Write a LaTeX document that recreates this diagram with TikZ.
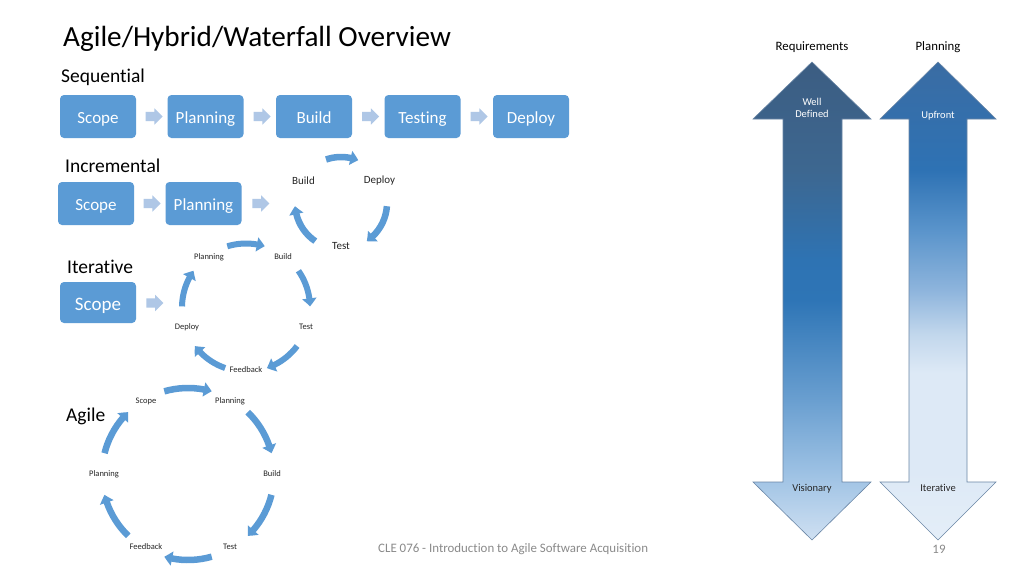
\documentclass[tikz,border=0pt]{standalone}
\usepackage{fontspec}
\setmainfont{Carlito}[Ligatures=NoCommon]
\usetikzlibrary{arrows.meta,shapes.arrows,calc,bending}
\definecolor{sablue}{HTML}{5B9BD5}
\definecolor{chev}{HTML}{AFC7E6}
\definecolor{txt}{HTML}{262626}
\definecolor{foot}{HTML}{8A8A8A}
\definecolor{rA}{HTML}{3C5D82}
\definecolor{rB}{HTML}{3D6790}
\definecolor{rC}{HTML}{2E73B3}
\definecolor{rD}{HTML}{2E75B6}
\definecolor{rE}{HTML}{6A9FD0}
\definecolor{rF}{HTML}{9BC0E3}
\definecolor{rG}{HTML}{CFE0F2}
\definecolor{pA}{HTML}{3A6CA3}
\definecolor{pB}{HTML}{2E72B4}
\definecolor{pC}{HTML}{5A94CB}
\definecolor{pD}{HTML}{8DB4DC}
\definecolor{pE}{HTML}{C2D7EC}
\definecolor{pF}{HTML}{DDE9F6}
\definecolor{pG}{HTML}{E4EEF8}
\definecolor{outl}{HTML}{6A86A6}
\pgfdeclareverticalshading{reqshade}{100bp}{color(0bp)=(rG); color(25bp)=(rG); color(32.3bp)=(rF); color(39.6bp)=(rE); color(50.1bp)=(rD); color(54.3bp)=(rC); color(63.7bp)=(rB); color(75bp)=(rA); color(100bp)=(rA)}
\pgfdeclareverticalshading{planshade}{100bp}{color(0bp)=(pG); color(25bp)=(pG); color(32.3bp)=(pF); color(42.5bp)=(pF); color(46.5bp)=(pE); color(51.2bp)=(pD); color(57.4bp)=(pC); color(63.7bp)=(pB); color(75bp)=(pA); color(100bp)=(pA)}
\newcommand{\chvbody}{\rule{0pt}{9pt}}
\tikzset{
  box/.style={fill=sablue, rounded corners=4pt, minimum width=76pt, minimum height=43pt, inner sep=0pt, text=white, text height=13.6pt, text depth=0pt, font=\fontsize{17}{17}\selectfont},
  chevarrow/.style={single arrow, fill=chev, minimum height=17pt, single arrow head extend=3.5pt, inner sep=0pt},
  sect/.style={anchor=west, text=black, font=\fontsize{19.5}{20}\selectfont, inner sep=0pt},
  clabbig/.style={text=txt, font=\fontsize{11}{12}\selectfont, inner sep=0pt},
  clab/.style={text=txt, font=\fontsize{8.5}{9}\selectfont, inner sep=0pt},
  cyc/.style={draw=sablue, line width=6.5pt, -{Triangle[bend, length=8pt, width=14pt]}},
  dblarrow/.style={draw=outl, line width=0.6pt},
  rlab/.style={text=black, font=\fontsize{12.8}{14}\selectfont, inner sep=0pt},
  inlab/.style={font=\fontsize{10.5}{12}\selectfont, inner sep=0pt, align=center}
}
\begin{document}
\begin{tikzpicture}[x=1pt,y=1pt]
\useasboundingbox[fill=white] (0,0) rectangle (1024,-576);

% title
\node[anchor=base west, inner sep=0pt, font=\fontsize{29.2}{31}\selectfont] (title) at (63,-46.5) {Agile/Hybrid/Waterfall Overview};

% ---------- Sequential
\node[sect] (seq) at (61,-77.5) {Sequential};
\node[box] (s1) at (98,-116.5) {Scope};
\node[box] (s2) at (205.5,-116.5) {Planning};
\node[box] (s3) at (314,-116.5) {Build};
\node[box] (s4) at (422.5,-116.5) {Testing};
\node[box] (s5) at (531,-116.5) {Deploy};
\node[chevarrow] (sa1) at ($(s1.east)!0.5!(s2.west)$) {\chvbody};
\node[chevarrow] (sa2) at ($(s2.east)!0.5!(s3.west)$) {\chvbody};
\node[chevarrow] (sa3) at ($(s3.east)!0.5!(s4.west)$) {\chvbody};
\node[chevarrow] (sa4) at ($(s4.east)!0.5!(s5.west)$) {\chvbody};

% ---------- Incremental
\node[sect] (inc) at (65,-165.5) {Incremental};
\node[box] (i1) at (96,-203.5) {Scope};
\node[box] (i2) at (203.5,-203.5) {Planning};
\node[chevarrow] (ia1) at ($(i1.east)!0.5!(i2.west)$) {\chvbody};
\node[chevarrow] (ia2) at (258.5,-203.5) {\chvbody};
\coordinate (ic) at (341,-203);
\node[clabbig] (ib) at (303.5,-181) {Build};
\node[clabbig] (id) at (379.5,-181) {Deploy};
\node[clabbig] (it) at (341,-246) {Test};
\draw[cyc] ($(ic)+(109:46)$) arc[start angle=109, end angle=68, radius=46];
\draw[cyc] ($(ic)+(-4:46)$) arc[start angle=-4, end angle=-56, radius=46];
\draw[cyc] ($(ic)+(-124:46)$) arc[start angle=-124, end angle=-176, radius=46];

% ---------- Iterative
\node[sect] (itr) at (67,-266.5) {Iterative};
\node[box, minimum height=41pt, text height=15pt, font=\fontsize{19}{19}\selectfont] (r1) at (98,-302.5) {Scope};
\node[chevarrow] (ra1) at (152.5,-303) {\chvbody};
\coordinate (rc) at (246,-307.5);
\node[clab] (rp) at (209,-257) {Planning};
\node[clab] (rb) at (283,-257) {Build};
\node[clab] (rt) at (306,-327) {Test};
\node[clab] (rf) at (246,-370) {Feedback};
\node[clab] (rd) at (187,-327) {Deploy};
\foreach \m in {90,18,-54,-126,162}{
  \draw[cyc, line width=6pt] ($(rc)+(\m+17:64)$) arc[start angle=\m+17, end angle=\m-17, radius=64];
}

% ---------- Agile
\node[sect] (agl) at (66,-416.5) {Agile};
\coordinate (ac) at (188,-474);
\node[clab] (a1) at (146,-401) {Scope};
\node[clab] (a2) at (230,-401) {Planning};
\node[clab] (a3) at (272,-474) {Build};
\node[clab] (a4) at (230,-547) {Test};
\node[clab] (a5) at (146,-547) {Feedback};
\node[clab] (a6) at (104,-474) {Planning};
\foreach \m in {90,30,-30,-90,-150,150}{
  \draw[cyc] ($(ac)+(\m+16:86)$) arc[start angle=\m+16, end angle=\m-16, radius=86];
}

% ---------- Right double arrows
\path[dblarrow, shading=reqshade] (812,-62) -- (871,-119) -- (842,-119) -- (842,-482) -- (871,-482) -- (812,-540) -- (753,-482) -- (783,-482) -- (783,-119) -- (753,-119) -- cycle;
\path[dblarrow, shading=planshade] (938,-62) -- (996,-119) -- (967,-119) -- (967,-482) -- (996,-482) -- (938,-540) -- (880,-482) -- (909,-482) -- (909,-119) -- (880,-119) -- cycle;
\node[rlab] (req) at (812,-47) {Requirements};
\node[rlab] (pln) at (938,-47) {Planning};
\node[inlab, text=white] (wd) at (812,-108) {Well\\Defined};
\node[inlab, text=white] (up) at (938,-116) {Upfront};
\node[inlab, text=txt] (vis) at (812,-489) {Visionary};
\node[inlab, text=txt] (itv) at (938,-488) {Iterative};

% footer
\node[anchor=west, inner sep=0pt, text=foot, font=\fontsize{12.9}{14}\selectfont] (ft) at (378,-549.5) {CLE 076 - Introduction to Agile Software Acquisition};
\node[inner sep=0pt, text=foot, font=\fontsize{12.9}{14}\selectfont] (pg) at (939,-549.5) {19};
\end{tikzpicture}
\end{document}
